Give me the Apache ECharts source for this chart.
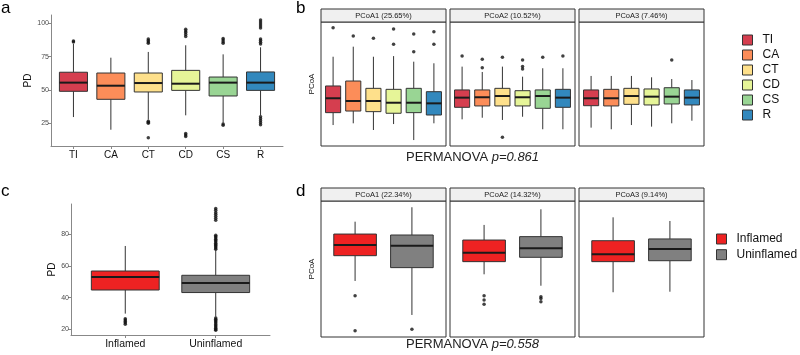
<!DOCTYPE html>
<html>
<head>
<meta charset="utf-8">
<script src="https://cdn.jsdelivr.net/npm/echarts@6.0.0/dist/echarts.min.js"></script>
<style>
  html, body { margin: 0; padding: 0; background: #fff; }
  #chart { width: 800px; height: 355px; }
</style>
</head>
<body>
<div id="chart"></div>
<script>
// ---- panel a: PD per group, box = [min, q1, median, q3, max]
const groups = ["TI", "CA", "CT", "CD", "CS", "R"]
const groupColors = ["#D53E4F", "#FC8D59", "#FEE08B", "#E6F598", "#99D594", "#3288BD"]
const pdTicks = [25, 50, 75, 100]
const pdBoxes = [
  [29.7, 49, 55.5, 63.3, 84.5],
  [20.2, 43, 53.2, 62.7, 74.2],
  [27.8, 48.5, 55.2, 62.7, 78.5],
  [31, 49.7, 54.7, 64.7, 83.5],
  [25.5, 45.5, 55.5, 59.7, 76.7],
  [31, 49.7, 55.5, 63.5, 82],
]
const pdOutliers = [
  [86, 86.8],
  [],
  [85, 86, 87, 88.2, 25, 25.8, 26.6, 14.2],
  [90, 91.5, 93, 94.2, 95.5, 15.2, 16.3, 17.4],
  [85, 86.2, 87.4, 88.6, 23.6, 24.4],
  [84.5, 85.8, 87, 88.2, 96.5, 98, 99.5, 101, 102.5, 24, 25.5, 27, 28.5, 30],
]

// ---- panel b: PCoA axes per group
const pcoaTitlesB = ["PCoA1 (25.65%)", "PCoA2 (10.52%)", "PCoA3 (7.46%)"]
const pcoaBoxesB = [
  [
    [-0.331, -0.231, -0.115, -0.016, 0.220],
    [-0.317, -0.218, -0.137, 0.024, 0.301],
    [-0.371, -0.223, -0.137, -0.035, 0.220],
    [-0.323, -0.236, -0.151, -0.043, 0.225],
    [-0.452, -0.231, -0.151, -0.035, 0.180],
    [-0.317, -0.250, -0.156, -0.062, 0.167],
  ],
  [
    [-0.285, -0.188, -0.110, -0.048, 0.140],
    [-0.272, -0.177, -0.107, -0.048, 0.097],
    [-0.290, -0.177, -0.097, -0.035, 0.140],
    [-0.264, -0.177, -0.107, -0.054, 0.059],
    [-0.365, -0.196, -0.097, -0.048, 0.127],
    [-0.365, -0.188, -0.110, -0.043, 0.127],
  ],
  [
    [-0.352, -0.175, -0.115, -0.048, 0.065],
    [-0.365, -0.177, -0.115, -0.043, 0.065],
    [-0.331, -0.164, -0.097, -0.035, 0.065],
    [-0.344, -0.169, -0.102, -0.040, 0.054],
    [-0.317, -0.161, -0.102, -0.030, 0.040],
    [-0.296, -0.169, -0.110, -0.048, 0.032],
  ],
]
const pcoaOutliersB = [
  [[0.454], [0.387], [0.369], [0.444, 0.320], [0.403, 0.260], [0.422, 0.320]],
  [[0.226], [0.199, 0.131], [0.215, -0.430], [0.194, 0.141, 0.121], [0.215], [0.226]],
  [[], [], [], [], [0.194], []],
]

// ---- panel c: PD by inflammation status
const conds = ["Inflamed", "Uninflamed"]
const condColors = ["#EE2222", "#808080"]
const pdTicksC = [20, 40, 60, 80]
const pdBoxesC = [
  [29.9, 44.8, 53, 56.8, 72.6],
  [28, 43.2, 49.3, 54.1, 69.8],
]
const pdOutliersC = [
  [23.2, 24.1, 25, 25.9, 26.7],
  [70.6, 71.3, 72.1, 72.9, 73.6, 74.4, 75.3, 76.1, 76.9, 77.8, 78.6, 79.4,
   88.9, 90.1, 91.4, 92.6, 93.8, 95.1, 96.2,
   27.2, 26.4, 25.5, 24.7, 23.9, 23.1, 22.2, 21.4, 20.6, 19.9, 19.4],
]

// ---- panel d: PCoA axes by inflammation status
const pcoaTitlesD = ["PCoA1 (22.34%)", "PCoA2 (14.32%)", "PCoA3 (9.14%)"]
const pcoaBoxesD = [
  [[-0.088, 0.098, 0.176, 0.257, 0.348], [-0.338, 0.010, 0.171, 0.250, 0.454]],
  [[-0.039, 0.054, 0.120, 0.213, 0.324], [-0.123, 0.086, 0.152, 0.238, 0.439]],
  [[-0.171, 0.054, 0.108, 0.208, 0.380], [-0.167, 0.061, 0.147, 0.221, 0.353]],
]
const pcoaOutliersD = [
  [[-0.196, -0.454], [-0.443]],
  [[-0.196, -0.228, -0.260], [-0.204, -0.217, -0.240]],
  [[], []],
]

const FONT = "Liberation Sans, Arial, sans-serif"
const facetLeft = [321, 450, 579]
const facetW = 125

// ggplot-ish box: whiskers without caps, thick median
function renderBox(params, api) {
  const x = api.value(0)
  const half = 0.375
  const pMin = api.coord([x, api.value(1)])
  const pQ1 = api.coord([x - half, api.value(2)])
  const pMed = api.coord([x, api.value(3)])
  const pQ3 = api.coord([x + half, api.value(4)])
  const pMax = api.coord([x, api.value(5)])
  const line = { stroke: "#333", lineWidth: 1 }
  return {
    type: "group",
    children: [
      { type: "line", shape: { x1: pMin[0], y1: pMin[1], x2: pMin[0], y2: pQ1[1] }, style: line },
      { type: "line", shape: { x1: pMax[0], y1: pQ3[1], x2: pMax[0], y2: pMax[1] }, style: line },
      {
        type: "rect",
        shape: { x: pQ1[0], y: pQ3[1], width: pQ3[0] - pQ1[0], height: pQ1[1] - pQ3[1] },
        style: { fill: api.visual("color"), stroke: "#333", lineWidth: 1 },
      },
      { type: "line", shape: { x1: pQ1[0], y1: pMed[1], x2: pQ3[0], y2: pMed[1] }, style: { stroke: "#1a1a1a", lineWidth: 2 } },
    ],
  }
}

function boxSeries(name, color, axisIdx, x, box) {
  return {
    type: "custom",
    name,
    xAxisIndex: axisIdx,
    yAxisIndex: axisIdx,
    renderItem: renderBox,
    itemStyle: { color, borderColor: "#333", borderWidth: 1 },
    encode: { x: 0, y: [1, 2, 3, 4, 5] },
    data: [[x, ...box]],
    z: 2,
  }
}

function outlierSeries(axisIdx, lists) {
  const pts = []
  lists.forEach((vals, i) => vals.forEach((v) => pts.push([i + 1, v])))
  return {
    type: "scatter",
    xAxisIndex: axisIdx,
    yAxisIndex: axisIdx,
    symbolSize: 3.5,
    itemStyle: { color: "#111" },
    data: pts,
    silent: true,
    z: 3,
  }
}

const grids = [
  { left: 51, top: 15, width: 232, height: 131 },
  ...facetLeft.map((l) => ({ left: l, top: 22, width: facetW, height: 124, show: true, borderColor: "#333", borderWidth: 1 })),
  { left: 71, top: 204, width: 199, height: 131 },
  ...facetLeft.map((l) => ({ left: l, top: 201, width: facetW, height: 136, show: true, borderColor: "#333", borderWidth: 1 })),
]

function catXAxis(gridIndex, names, fontSize) {
  const pos = names.map((_, i) => i + 1)
  return {
    gridIndex, type: "value", min: 0.4, max: names.length + 0.6,
    axisLine: { show: true, lineStyle: { color: "#888", width: 1 } },
    axisTick: { show: true, length: 3, customValues: pos, lineStyle: { color: "#888" } },
    axisLabel: { customValues: pos, formatter: (v) => names[Math.round(v) - 1], fontSize, color: "#111", margin: 4 },
    splitLine: { show: false },
  }
}
function pdYAxis(gridIndex, min, max, ticks, nameGap) {
  return {
    gridIndex, type: "value", min, max,
    axisLine: { show: true, lineStyle: { color: "#888", width: 1 } },
    axisTick: { show: true, length: 3, customValues: ticks, lineStyle: { color: "#888" } },
    axisLabel: { customValues: ticks, fontSize: 7, color: "#4d4d4d", margin: 2 },
    splitLine: { show: false },
    name: "PD", nameLocation: "middle", nameGap,
    nameTextStyle: { fontSize: 10, color: "#111" },
  }
}
function facetXAxis(gridIndex, n) {
  return { gridIndex, type: "value", min: 0.4, max: n + 0.6, show: false }
}
function facetYAxis(gridIndex, withName) {
  return {
    gridIndex, type: "value", min: -0.5, max: 0.5,
    axisLine: { show: false }, axisTick: { show: false }, axisLabel: { show: false }, splitLine: { show: false },
    name: withName ? "PCoA" : "", nameLocation: "middle", nameGap: 5,
    nameTextStyle: { fontSize: 8, color: "#111" },
  }
}

const xAxes = [
  catXAxis(0, groups, 10),
  facetXAxis(1, 6), facetXAxis(2, 6), facetXAxis(3, 6),
  catXAxis(4, conds, 10.5),
  facetXAxis(5, 2), facetXAxis(6, 2), facetXAxis(7, 2),
]
const yAxes = [
  pdYAxis(0, 8, 106.2, pdTicks, 13),
  facetYAxis(1, true), facetYAxis(2, false), facetYAxis(3, false),
  pdYAxis(4, 16.4, 99.1, pdTicksC, 10),
  facetYAxis(5, true), facetYAxis(6, false), facetYAxis(7, false),
]

const series = []
groups.forEach((g, i) => series.push(boxSeries(g, groupColors[i], 0, i + 1, pdBoxes[i])))
series.push(outlierSeries(0, pdOutliers))
pcoaBoxesB.forEach((facet, f) => {
  facet.forEach((box, i) => series.push(boxSeries(groups[i], groupColors[i], f + 1, i + 1, box)))
  series.push(outlierSeries(f + 1, pcoaOutliersB[f]))
})
conds.forEach((c, i) => series.push(boxSeries(c, condColors[i], 4, i + 1, pdBoxesC[i])))
series.push(outlierSeries(4, pdOutliersC))
pcoaBoxesD.forEach((facet, f) => {
  facet.forEach((box, i) => series.push(boxSeries(conds[i], condColors[i], f + 5, i + 1, box)))
  series.push(outlierSeries(f + 5, pcoaOutliersD[f]))
})

// facet strips
const strips = []
function addStrips(titles, top) {
  titles.forEach((t, f) => {
    strips.push({
      type: "rect", shape: { x: facetLeft[f], y: top, width: facetW, height: 13 },
      style: { fill: "#f0f0f0", stroke: "#333", lineWidth: 1 }, z: 10,
    })
    strips.push({
      type: "text", x: facetLeft[f] + facetW / 2, y: top + 6.5,
      style: { text: t, fontSize: 7.5, fontFamily: FONT, fill: "#1a1a1a", align: "center", verticalAlign: "middle" }, z: 11,
    })
  })
}
addStrips(pcoaTitlesB, 9)
addStrips(pcoaTitlesD, 188)

const letter = (text, left, top) => ({
  text, left, top, padding: 0,
  textStyle: { fontSize: 17, fontWeight: "normal", color: "#000", fontFamily: FONT },
})
const permanova = (p, top) => ({
  text: "{n|PERMANOVA }{i|p=" + p + "}", left: 406, top, padding: 0,
  textStyle: {
    fontWeight: "normal",
    rich: {
      n: { fontSize: 13, color: "#222", fontWeight: "normal", fontFamily: FONT },
      i: { fontSize: 13, color: "#222", fontWeight: "normal", fontStyle: "italic", fontFamily: FONT },
    },
  },
})

const legendBase = {
  orient: "vertical", icon: "rect", itemWidth: 10, itemHeight: 10, itemGap: 3,
  padding: 0, selectedMode: false,
  itemStyle: { borderColor: "#333", borderWidth: 1 },
  textStyle: { fontSize: 12, lineHeight: 12, color: "#111", fontFamily: FONT, padding: [0, 0, 0, 5] },
}

const chart = echarts.init(document.getElementById("chart"))
chart.setOption({
  animation: false,
  textStyle: { fontFamily: FONT },
  title: [
    letter("a", 1, 0), letter("b", 296, 0), letter("c", 1, 183), letter("d", 296, 183),
    permanova("0.861", 151), permanova("0.558", 338),
  ],
  legend: [
    { ...legendBase, data: groups, left: 742, top: 34 },
    { ...legendBase, data: conds, left: 716, top: 233, itemGap: 3.7 },
  ],
  grid: grids,
  xAxis: xAxes,
  yAxis: yAxes,
  graphic: strips,
  series,
})
</script>
</body>
</html>
